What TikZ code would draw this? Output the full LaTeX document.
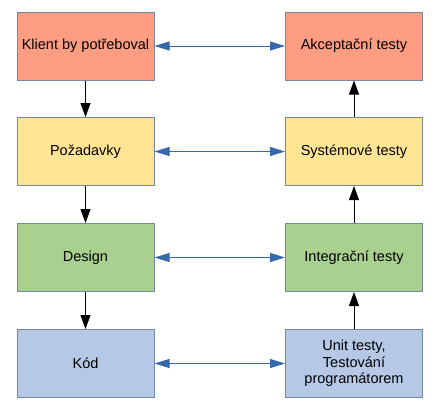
\documentclass[tikz,border=0pt]{standalone}
\usepackage{fontspec}
\setmainfont{Liberation Sans}
\usetikzlibrary{arrows.meta}
\definecolor{redbox}{HTML}{FF9D82}
\definecolor{yellowbox}{HTML}{FFE593}
\definecolor{greenbox}{HTML}{A9D08E}
\definecolor{bluebox}{HTML}{B5C9E6}
\definecolor{boxline}{HTML}{7688A0}
\definecolor{linkblue}{HTML}{3767AC}
\tikzset{
  box/.style={draw=boxline, line width=1pt, minimum width=137pt, minimum height=68pt,
    align=center, font=\fontsize{14.5}{16.5}\selectfont},
  flow/.style={line width=1pt, -{Triangle[length=14pt,width=10pt]}},
  link/.style={line width=1pt, draw=linkblue, fill=linkblue, {Triangle[length=15pt,width=9pt]}-{Triangle[length=15pt,width=9pt]}}
}

\begin{document}
\begin{tikzpicture}[x=1pt,y=-1pt]
			%%%%% START %%%%%
			\useasboundingbox (0,0) rectangle (438,413);
			
			\node[box, fill=redbox] (klient) at (85.5, 46) {Klient by potřeboval};
			\node[box, fill=yellowbox] (pozadavky) at (85.5, 151.5) {Požadavky};
			\node[box, fill=greenbox] (design) at (85.5, 257.5) {Design};
			\node[box, fill=bluebox] (kod) at (85.5, 363.5) {Kód};
			
			\node[box, fill=redbox] (akceptacni) at (354, 46) {Akceptační testy};
			\node[box, fill=yellowbox] (systemove) at (354, 151.5) {Systémové testy};
			\node[box, fill=greenbox] (integracni) at (354, 257.5) {Integrační testy};
			\node[box, fill=bluebox] (unit) at (354, 363.5) {Unit testy,\\Testování\\programátorem};
			
			\draw[flow] (klient) -- (pozadavky);
			\draw[flow] (pozadavky) -- (design);
			\draw[flow] (design) -- (kod);
			
			\draw[flow] (unit) -- (integracni);
			\draw[flow] (integracni) -- (systemove);
			\draw[flow] (systemove) -- (akceptacni);
			
			\draw[link] (klient) -- (akceptacni);
			\draw[link] (pozadavky) -- (systemove);
			\draw[link] (design) -- (integracni);
			\draw[link] (kod) -- (unit);
			%%%%% END %%%%%
		\end{tikzpicture}
\end{document}
